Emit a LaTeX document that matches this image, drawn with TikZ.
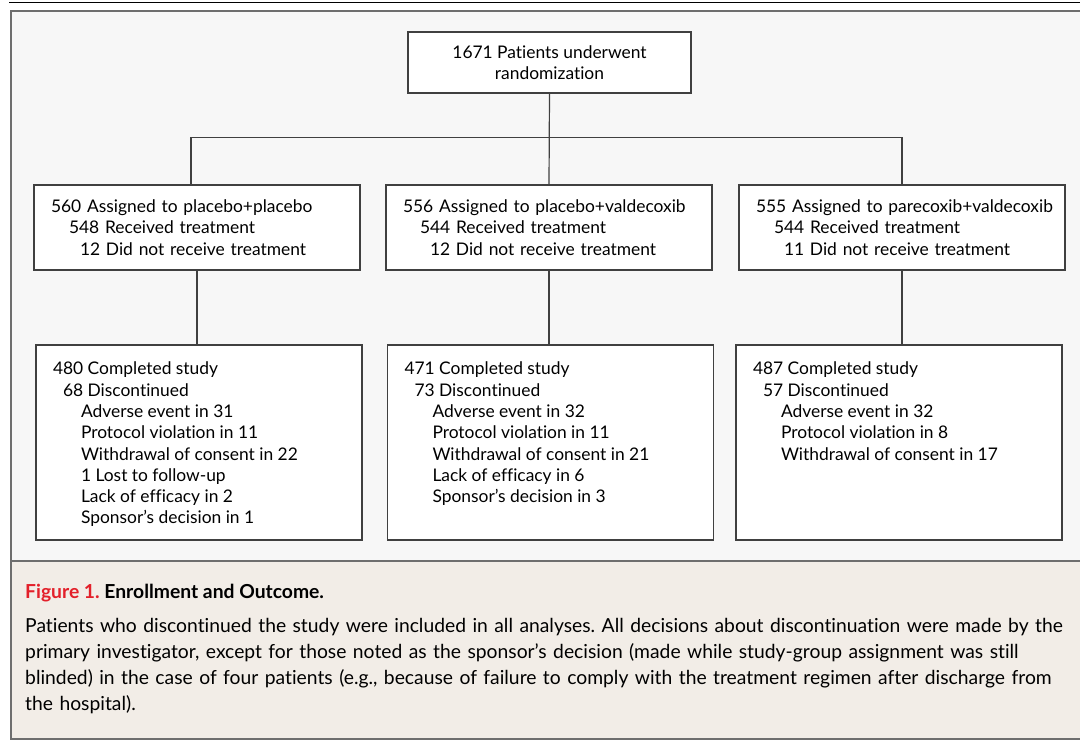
\documentclass[tikz,border=0pt]{standalone}
\usepackage{fontspec}
\setmainfont{Lato}[Ligatures=NoCommon]
\usetikzlibrary{positioning}

\definecolor{framebg}{HTML}{F7F7F7}
\definecolor{capbg}{HTML}{F2EDE7}
\definecolor{framegray}{HTML}{6E6E6E}
\definecolor{boxline}{HTML}{404040}
\definecolor{figred}{HTML}{E3202A}

\tikzset{
  flowbox/.style={draw=boxline, line width=1.2pt, fill=white, inner sep=0pt},
  randbox/.style={flowbox, minimum width=283pt, minimum height=61pt, align=center},
  armbox/.style={flowbox, minimum width=326pt, minimum height=85pt, text width=292pt, align=left},
  outbox/.style={flowbox, minimum width=326pt, minimum height=195pt},
  link/.style={draw=boxline, line width=1.2pt}
}

\newcommand{\ind}[1]{\hspace*{#1pt}}

\begin{document}
\frenchspacing
\begin{tikzpicture}[x=1pt, y=-1pt, font=\fontsize{17.4}{21.3}\selectfont]
  \useasboundingbox (0,0) rectangle (1080,740);
  % Frame and caption panel
  \fill[framebg] (11,11) rectangle (1090,561);
  \fill[capbg] (11,561) rectangle (1090,739);
  \draw[framegray, line width=2pt] (1090,11) -- (11,11) -- (11,739) -- (1090,739);
  \draw[framegray, line width=1.6pt] (11,561) -- (1090,561);
  \draw[black, line width=1.4pt] (9,2.5) -- (1090,2.5);

  % Randomization
  \node[randbox] (rand) at (549.5,62.5) {1671 Patients underwent\\randomization};

  % Assigned groups
  \node[armbox] (armA) at (197,227.5) {\mbox{560 Assigned to placebo+placebo}\\
    \ind{18}548 Received treatment\\
    \ind{29}12 Did not receive treatment};
  \node[armbox] (armB) at (549,227.5) {\mbox{556 Assigned to placebo+valdecoxib}\\
    \ind{17}544 Received treatment\\
    \ind{27}12 Did not receive treatment};
  \node[armbox] (armC) at (902,227.5) {\mbox{555 Assigned to parecoxib+valdecoxib}\\
    \ind{18}544 Received treatment\\
    \ind{28}11 Did not receive treatment};

  % Outcomes
  \node[outbox] (outA) at (199,442.5) {\parbox[c][161pt][t]{292pt}{480 Completed study\\
    \ind{10}68 Discontinued\\
    \ind{28}Adverse event in 31\\
    \ind{28}Protocol violation in 11\\
    \ind{28}Withdrawal of consent in 22\\
    \ind{28}1 Lost to follow-up\\
    \ind{28}Lack of efficacy in 2\\
    \ind{28}Sponsor’s decision in 1}};
  \node[outbox] (outB) at (550.5,442.5) {\parbox[c][161pt][t]{292pt}{471 Completed study\\
    \ind{10}73 Discontinued\\
    \ind{28}Adverse event in 32\\
    \ind{28}Protocol violation in 11\\
    \ind{28}Withdrawal of consent in 21\\
    \ind{28}Lack of efficacy in 6\\
    \ind{28}Sponsor’s decision in 3}};
  \node[outbox] (outC) at (899,442.5) {\parbox[c][161pt][t]{292pt}{487 Completed study\\
    \ind{10}57 Discontinued\\
    \ind{28}Adverse event in 32\\
    \ind{28}Protocol violation in 8\\
    \ind{28}Withdrawal of consent in 17}};

  % Connectors
  \draw[link] (rand.south) -- (armB.north);
  \draw[link] ([xshift=-6pt]armA.north) -- ++(0,-47) -| (armC.north);
  \draw[link] (armA.south) -- (armA.south |- outA.north);
  \draw[link] (armB.south) -- (armB.south |- outB.north);
  \draw[link] (armC.south) -- (armC.south |- outC.north);

  % Caption
  \node[anchor=west, inner sep=0pt, font=\fontsize{19.3}{26}\selectfont\bfseries] (title) at (25,593)
    {\textcolor{figred}{Figure 1.} Enrollment and Outcome.};
  \node[anchor=north west, inner sep=0pt, text width=1052pt, align=left,
    font=\fontsize{19.3}{26}\selectfont] (legend) at (25,618)
    {Patients who discontinued the study were included in all analyses. All decisions about discontinuation were made by the\\
    primary investigator, except for those noted as the sponsor’s decision (made while study-group assignment was still\\
    blinded) in the case of four patients (e.g., because of failure to comply with the treatment regimen after discharge from\\
    the hospital).};
\end{tikzpicture}
\end{document}
